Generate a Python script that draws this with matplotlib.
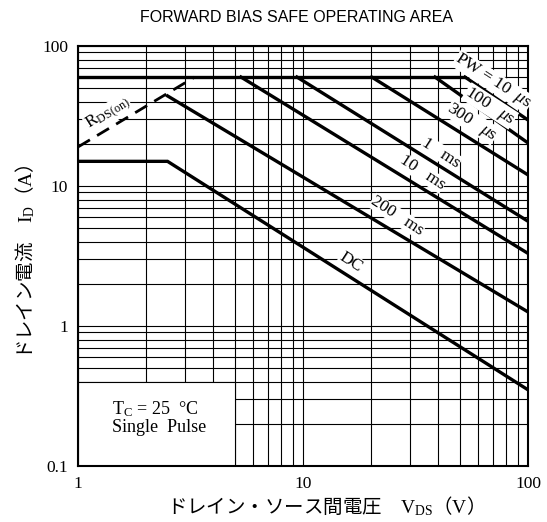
import matplotlib.pyplot as plt
from matplotlib.patches import Rectangle
from matplotlib.ticker import FixedLocator, FixedFormatter, NullFormatter, LogLocator

plt.rcParams['font.family'] = ['Liberation Serif', 'Noto Sans CJK JP']
plt.rcParams['mathtext.fontset'] = 'custom'
plt.rcParams['mathtext.rm'] = 'Liberation Serif'
plt.rcParams['mathtext.it'] = 'Liberation Serif:italic'

# Daten
limit_x = [1, 52.5]
limit_y = [60, 60]
rds_x = [1, 3.3]
rds_y = [19, 60]
pw10_x = [52.5, 100]
pw10_y = [60, 29.6]
pw100_x = [38.6, 100]
pw100_y = [60, 20.3]
pw300_x = [20.2, 100]
pw300_y = [60, 12.0]
ms1_x = [9.4, 100]
ms1_y = [60, 5.6]
ms10_x = [5.3, 100]
ms10_y = [60, 3.3]
ms200_x = [2.5, 100]
ms200_y = [44, 1.26]
dc_x = [1, 2.5, 100]
dc_y = [15, 15, 0.35]

xticks = [1, 10, 100]
xlabels = ["1", "10", "100"]
yticks = [0.1, 1, 10, 100]
ylabels = ["0.1", "1", "10", "100"]

fig = plt.figure(figsize=(5.47, 5.22), dpi=100)
ax = fig.add_axes([78/547, 1-466/522, 450/547, 420/522])
ax.set_xscale("log")
ax.set_yscale("log")
ax.set_xlim(1, 100)
ax.set_ylim(0.1, 100)

ax.xaxis.set_major_locator(FixedLocator(xticks))
ax.xaxis.set_major_formatter(FixedFormatter(xlabels))
ax.yaxis.set_major_locator(FixedLocator(yticks))
ax.yaxis.set_major_formatter(FixedFormatter(ylabels))
ax.xaxis.set_minor_locator(LogLocator(base=10, subs=range(2, 10)))
ax.yaxis.set_minor_locator(LogLocator(base=10, subs=range(2, 10)))
ax.xaxis.set_minor_formatter(NullFormatter())
ax.yaxis.set_minor_formatter(NullFormatter())
ax.tick_params(which="both", length=0, labelsize=12.5, pad=7)
ax.grid(which="both", color="black", lw=0.8)
for s in ax.spines.values():
    s.set_linewidth(1.5)

# Kasten unten links
ax.add_patch(Rectangle((1, 0.1), 4, 0.3, facecolor="white", edgecolor="black", lw=0.8, zorder=2))
ax.text(1.42, 0.222, "T$_\\mathrm{C}$ = 25  °C\nSingle  Pulse", fontsize=13, va="center", ha="left",
        linespacing=1.05, zorder=3)

lw = 2.4
ax.plot(limit_x, limit_y, color="black", lw=lw, zorder=4)
ax.plot(rds_x, rds_y, color="black", lw=2.0, ls=(0, (5, 3)), zorder=4)
for xs, ys in [(pw10_x, pw10_y), (pw100_x, pw100_y), (pw300_x, pw300_y), (ms1_x, ms1_y),
               (ms10_x, ms10_y), (ms200_x, ms200_y), (dc_x, dc_y)]:
    ax.plot(xs, ys, color="black", lw=lw, zorder=4, solid_joinstyle="miter")

box = dict(facecolor="white", edgecolor="none", pad=0.3)
labels = [
    (69.9, 56, "PW = 10  $\\mu$s"),
    (67.8, 37.3, "100   $\\mu$s"),
    (56.4, 28.7, "300   $\\mu$s"),
    (41.0, 17.2, "1   ms"),
    (33.8, 12.4, "10   ms"),
    (26.2, 6.1, "200   ms"),
    (16.3, 2.87, "DC"),
]
for x, y, t in labels:
    ax.text(x, y, t, fontsize=12.5, rotation=-33, ha="center", va="center", bbox=box, zorder=5)
ax.text(1.36, 32.7, "R$_\\mathrm{DS(on)}$", fontsize=12.5, rotation=32, ha="center", va="center",
        bbox=box, zorder=5)

fig.text(296/547, 1-18/522, "FORWARD BIAS SAFE OPERATING AREA", family="Liberation Sans",
         fontsize=11.5, ha="center", va="center")
fig.text(320/547, 1-507/522, "ドレイン・ソース間電圧　$\\mathrm{V_{DS}}$（$\\mathrm{V}$）",
         family="Noto Sans CJK JP", fontsize=14, ha="center", va="center")
fig.text(25/547, 1-262/522, "ドレイン電流　$\\mathrm{I_D}$（$\\mathrm{A}$）", family="Noto Sans CJK JP",
         fontsize=14, ha="center", va="center", rotation=90)

fig.savefig("out.png", dpi=100)
